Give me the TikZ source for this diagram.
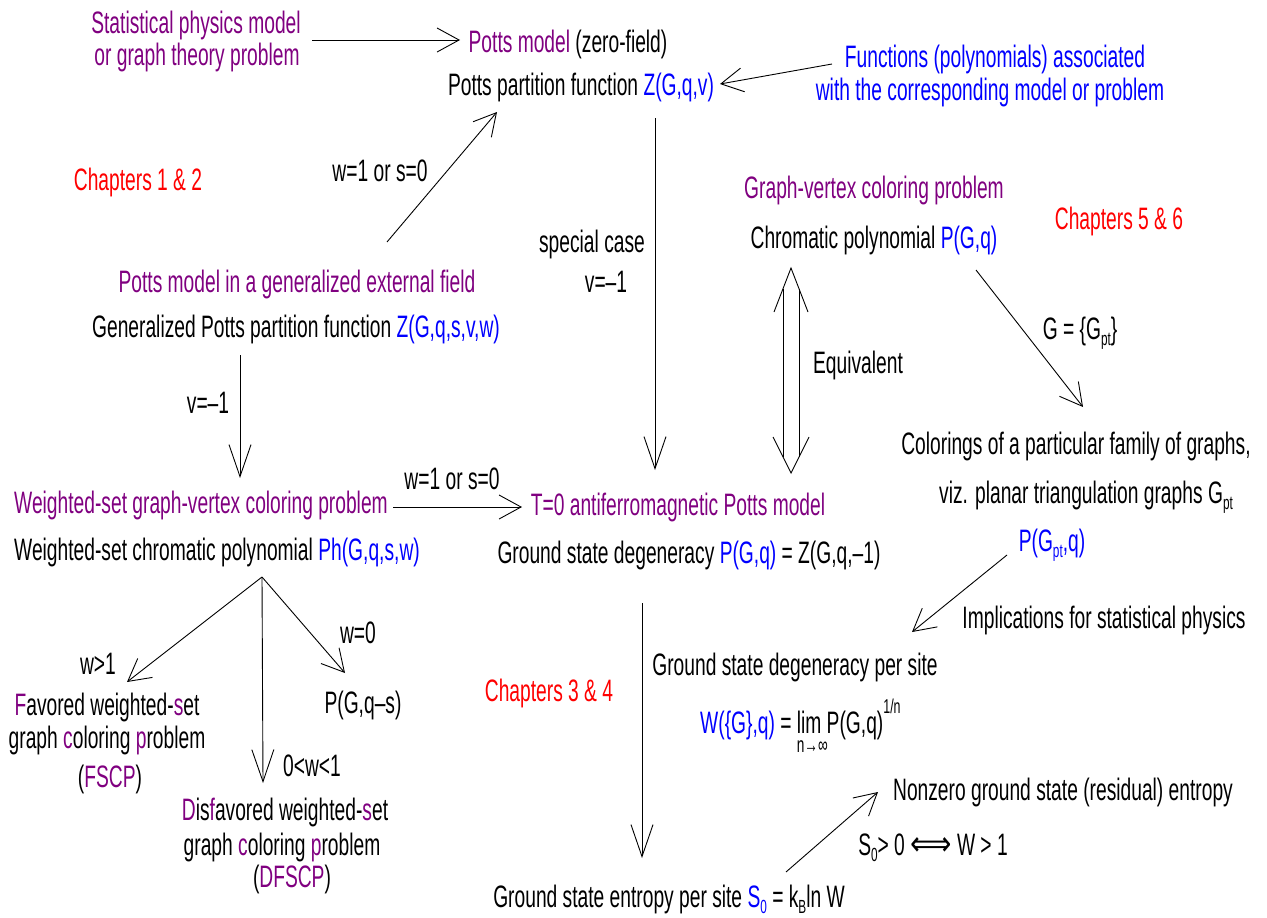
\documentclass[tikz,border=0pt]{standalone}
\usepackage{fontspec}
\setmainfont{Liberation Sans}[FakeStretch=0.62]
\newfontfamily\dejavu{DejaVu Sans}[FakeStretch=0.85]
\usetikzlibrary{arrows.meta,calc}
\definecolor{pur}{RGB}{128,0,128}
\definecolor{blu}{RGB}{0,0,255}
\definecolor{rd}{RGB}{255,0,0}
\newcommand{\sbs}[1]{\raisebox{-6pt}{\fontsize{19}{19}\selectfont #1}}
\begin{document}
\begin{tikzpicture}[x=1pt,y=-1pt,
  lbl/.style={inner sep=0pt, anchor=base, font=\fontsize{31}{32}\selectfont},
  ln/.style={line width=0.9pt},
  conn/.style={ln, -{Straight Barb[length=22pt,width=24pt,line width=0.9pt]}},
  longconn/.style={ln, -{Straight Barb[length=32pt,width=22pt,line width=0.9pt]}}]
\useasboundingbox (0,0) rectangle (1267,918);
% texts
\node[lbl, text=pur] (stat1) at (196,33) {Statistical physics model};
\node[lbl, text=pur] (stat2) at (197,65) {or graph theory problem};
\node[lbl] (pm) at (568,52) {\textcolor{pur}{Potts model} (zero-field)};
\node[lbl] (ppf) at (581,95) {Potts partition function \textcolor{blu}{Z(G,q,v)}};
\node[lbl, text=blu] (fn1) at (995,67) {Functions (polynomials) associated};
\node[lbl, text=blu] (fn2) at (990,100) {with the corresponding model or problem};
\node[lbl, text=rd] (ch12) at (138,190) {Chapters 1 \& 2};
\node[lbl] (lab1) at (380,181) {w=1 or s=0};
\node[lbl] (sc1) at (592,252) {special case};
\node[lbl] (sc2) at (606,292) {v=–1};
\node[lbl, text=pur] (gvc) at (874,198) {Graph-vertex coloring problem};
\node[lbl, text=rd] (ch56) at (1119,229) {Chapters 5 \& 6};
\node[lbl] (cp) at (874,248) {Chromatic polynomial \textcolor{blu}{P(G,q)}};
\node[lbl] (eqv) at (858,373) {Equivalent};
\node[lbl] (ggpt) at (1080,339) {G = \{G\sbs{pt}\}};
\node[lbl] (col1) at (1076,454) {Colorings of a particular family of graphs,};
\node[lbl] (col2) at (1086,503) {viz. planar triangulation graphs G\sbs{pt}};
\node[lbl, text=blu] (pgpt) at (1052,551) {P(G\sbs{pt},q)};
\node[lbl] (impl) at (1104,628) {Implications for statistical physics};
\node[lbl, text=pur] (pmg) at (297,292) {Potts model in a generalized external field};
\node[lbl] (gppf) at (296,337) {Generalized Potts partition function \textcolor{blu}{Z(G,q,s,v,w)}};
\node[lbl] (lab2) at (208,413) {v=–1};
\node[lbl, text=pur] (wsg) at (201,513) {Weighted-set graph-vertex coloring problem};
\node[lbl] (wcp) at (217,560) {Weighted-set chromatic polynomial \textcolor{blu}{Ph(G,q,s,w)}};
\node[lbl] (lab3) at (452,489) {w=1 or s=0};
\node[lbl, text=pur] (t0) at (678,515) {T=0 antiferromagnetic Potts model};
\node[lbl] (gsd) at (689,563) {Ground state degeneracy \textcolor{blu}{P(G,q)} = Z(G,q,–1)};
\node[lbl] (gsdps) at (795,675) {Ground state degeneracy per site};
\node[lbl, anchor=base west] (wf) at (700,733) {\textcolor{blu}{W(\{G\},q)} = \makebox[0pt][l]{\raisebox{-19pt}{\fontsize{22}{22}\selectfont n→∞}}lim P(G,q)\raisebox{20pt}{\fontsize{20}{20}\selectfont 1/n}};
\node[lbl, text=rd] (ch34) at (549,701) {Chapters 3 \& 4};
\node[lbl] (gse) at (669,907) {Ground state entropy per site \textcolor{blu}{S\sbs{0}} = k\sbs{B}ln W};
\node[lbl] (nz) at (1063,800) {Nonzero ground state (residual) entropy};
\node[lbl] (sw) at (933,855) {S\sbs{0}> 0 {\dejavu\fontsize{34}{34}\selectfont ⟺} W > 1};
\node[lbl] (lw1) at (98,674) {w>1};
\node[lbl] (lw0) at (358,643) {w=0};
\node[lbl] (lw01) at (312,776) {0<w<1};
\node[lbl] (pgqs) at (363,713) {P(G,q–s)};
\node[lbl] (fav1) at (107,715) {\textcolor{pur}{F}avored weighted-\textcolor{pur}{s}et};
\node[lbl] (fav2) at (107,748) {graph \textcolor{pur}{c}oloring \textcolor{pur}{p}roblem};
\node[lbl] (fav3) at (110,787) {(\textcolor{pur}{FSCP})};
\node[lbl] (dis1) at (285,820) {\textcolor{pur}{D}is\textcolor{pur}{f}avored weighted-\textcolor{pur}{s}et};
\node[lbl] (dis2) at (282,855) {graph \textcolor{pur}{c}oloring \textcolor{pur}{p}roblem};
\node[lbl] (dis3) at (292,887) {(\textcolor{pur}{DFSCP})};
% connector end points
\coordinate (a1s) at (312,40);  \coordinate (a1e) at (460,40);
\coordinate (a2s) at (832,64);  \coordinate (a2e) at (720,84);
\coordinate (a3s) at (387,242); \coordinate (a3e) at (497,112);
\coordinate (a4s) at (655,118); \coordinate (a4e) at (655,470);
\coordinate (a6s) at (976,270); \coordinate (a6e) at (1083,407);
\coordinate (a7s) at (1007,555); \coordinate (a7e) at (912,632);
\coordinate (a8s) at (240,355); \coordinate (a8e) at (240,478);
\coordinate (a9s) at (393,507); \coordinate (a9e) at (522,507);
\coordinate (a10s) at (642,603); \coordinate (a10e) at (642,858);
\coordinate (a11s) at (786,872); \coordinate (a11e) at (878,792);
\coordinate (apex) at (262,577);
\coordinate (tfav) at (127,682); \coordinate (tdis) at (263,783); \coordinate (tpgs) at (345,673);
\coordinate (eqt) at (791,268); \coordinate (eqb) at (791,473);
% connectors
\draw[conn] (a1s) -- (a1e);
\draw[conn] (a2s) -- (a2e);
\draw[conn] (a3s) -- (a3e);
\draw[longconn] (a4s) -- (a4e);
\draw[conn] (a6s) -- (a6e);
\draw[conn] (a7s) -- (a7e);
\draw[longconn] (a8s) -- (a8e);
\draw[conn] (a9s) -- (a9e);
\draw[longconn] (a10s) -- (a10e);
\draw[conn] (a11s) -- (a11e);
\draw[conn] (apex) -- (tfav);
\draw[longconn] (apex) -- (tdis);
\draw[conn] (apex) -- (tpgs);
% equivalence double arrow
\draw[ln] ($(eqt)+(-17,44)$) -- (eqt) -- ($(eqt)+(17,44)$);
\draw[ln] ($(eqb)+(-18,-36)$) -- (eqb) -- ($(eqb)+(18,-36)$);
\draw[ln] ($(eqt)+(-8,21)$) -- ($(eqb)+(-8,-16)$);
\draw[ln] ($(eqt)+(8,21)$) -- ($(eqb)+(8,-16)$);
\end{tikzpicture}
\end{document}
